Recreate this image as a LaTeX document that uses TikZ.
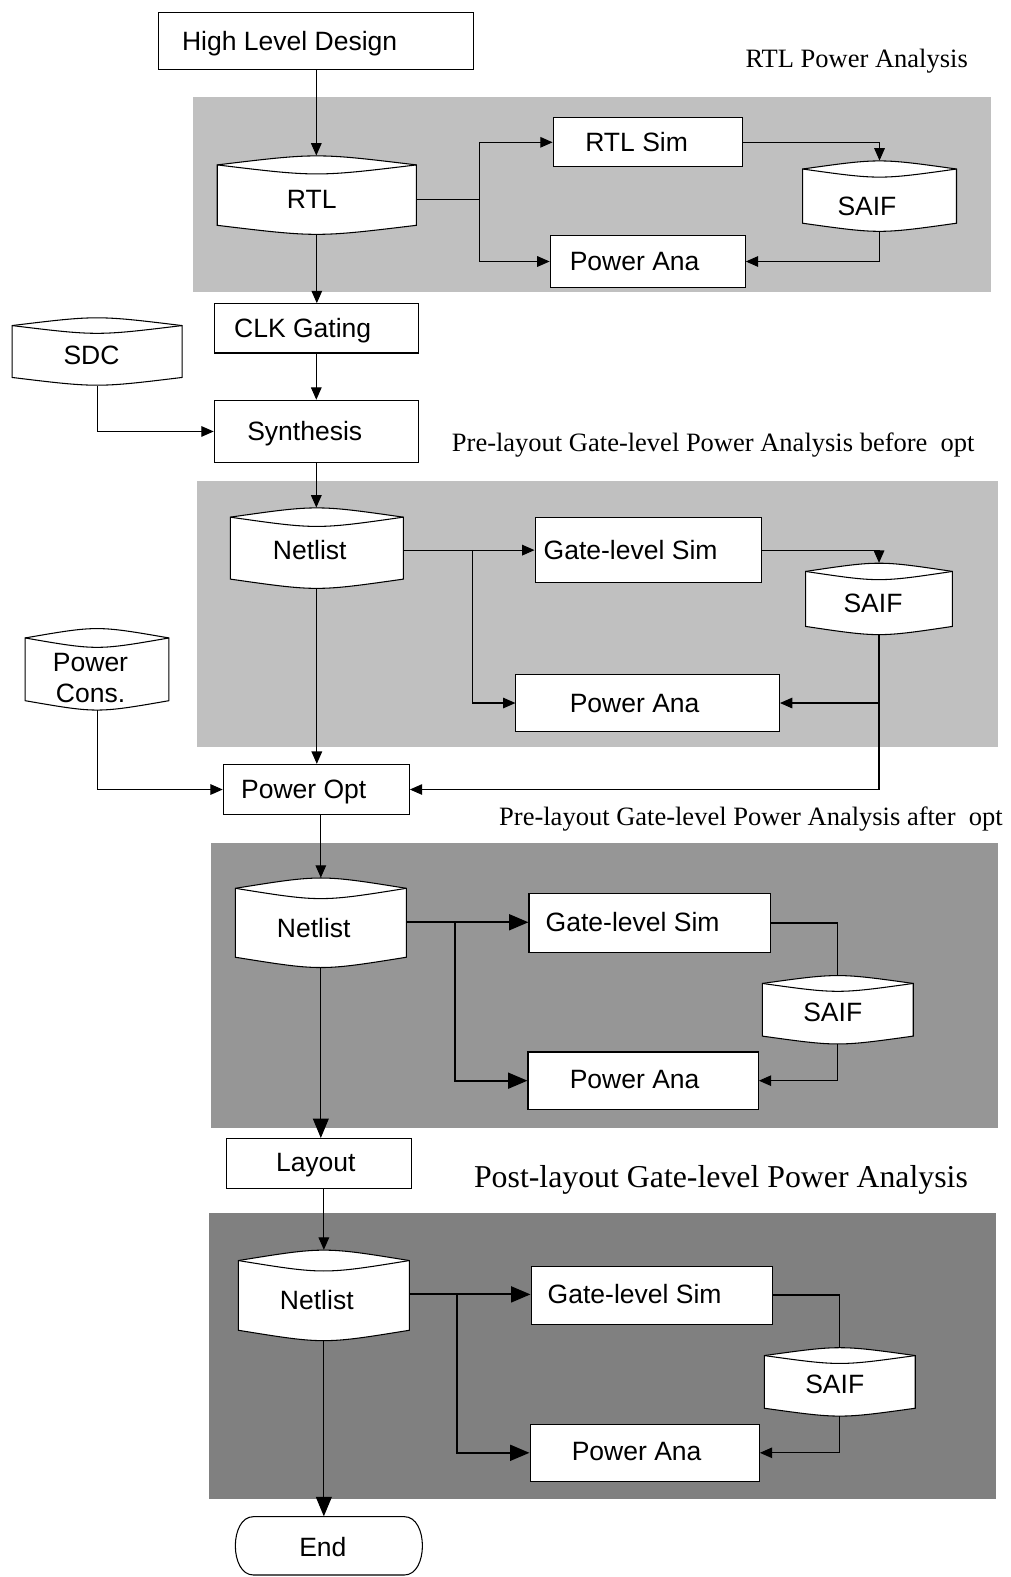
\documentclass[tikz,border=0pt]{standalone}
\usepackage{fontspec}
\setmainfont{Liberation Serif}
\setsansfont{Liberation Sans}
\usetikzlibrary{fit,arrows.meta}

\definecolor{bandA}{RGB}{192,192,192}
\definecolor{bandC}{RGB}{150,150,150}
\definecolor{bandD}{RGB}{128,128,128}

% process box spanning two corners
\newcommand\procnode[5]{\node[proc, fit={(#2,#3) (#4,#5)}] (#1) {};}

% data store: flat cylinder with a lens-shaped top and a bulging bottom
\newcommand\storenode[5]{%
  \pgfmathsetmacro\cylD{0.115*(#5-#3)}%
  \pgfmathsetmacro\cylC{4/3*\cylD}%
  \pgfmathsetmacro\cylM{(#2+#4)/2}%
  \pgfmathsetmacro\cylA{#3+\cylD}%
  \pgfmathsetmacro\cylB{#5-\cylD}%
  \filldraw[fill=white, wire] (#2,\cylA) -- (#2,\cylB)
     .. controls (\cylM,\cylB+\cylC) .. (#4,\cylB) -- (#4,\cylA)
     .. controls (\cylM,\cylA-\cylC) .. (#2,\cylA) -- cycle;
  \draw[wire] (#2,\cylA) .. controls (\cylM,\cylA+\cylC) .. (#4,\cylA);
  \node[area, fit={(#2,#3) (#4,#5)}] (#1) {};}

\begin{document}
\begin{tikzpicture}[x=0.02cm, y=-0.02cm,
  lbltwo/.style={font=\sffamily\fontsize{15}{17.6}\selectfont, inner sep=0, align=center},
  lbl/.style={lbltwo, text height=10.7pt, text depth=0pt},
  ttl/.style={font=\rmfamily\fontsize{15}{18}\selectfont, inner sep=0, anchor=west,
              text height=9.9pt, text depth=0pt},
  proc/.style={draw, fill=white, line width=0.6pt, inner sep=0},
  area/.style={inner sep=0, draw=none},
  wire/.style={line width=0.6pt},
  heavy/.style={line width=1.2pt},
  arr/.style={wire, -{Triangle[length=7pt,width=6pt]}},
  bigarr/.style={wire, -{Triangle[length=11pt,width=9pt]}},
  heavyarr/.style={heavy, -{Triangle[length=11pt,width=9pt]}}]
\useasboundingbox (0,0) rectangle (1005,1568);

% shaded analysis stages
\fill[bandA] (192,96) rectangle (985,290);
\fill[bandA] (196,478) rectangle (992,743);
\fill[bandC] (210,838) rectangle (992,1122);
\fill[bandD] (208,1206) rectangle (990,1490);

% stage titles
\node[ttl] (ttl-rtl) at (741,58) {RTL Power Analysis};
\node[ttl] (ttl-pre) at (449,440) {Pre-layout Gate-level Power Analysis before\ \ opt};
\node[ttl] (ttl-opt) at (496,812) {Pre-layout Gate-level Power Analysis after\ \ opt};
\node[ttl, font=\rmfamily\fontsize{18}{21}\selectfont, text height=11.9pt] (ttl-post) at (471,1170) {Post-layout Gate-level Power Analysis};

% main flow
\procnode{hld}{158}{12}{471}{69}
\storenode{rtl}{216}{155}{414}{233}
\procnode{rtlsim}{550}{117}{738}{166}
\storenode{saif1}{798}{160}{951}{230}
\procnode{pa1}{547}{234}{741}{286}
\procnode{clk}{213}{302}{416}{351}
\storenode{sdc}{12}{316}{181}{383}
\procnode{syn}{213}{398}{416}{460}
\storenode{net1}{229}{505}{401}{585}
\procnode{gs1}{532}{515}{757}{579}
\storenode{saif2}{801}{560}{947}{631}
\procnode{pa2}{513}{671}{775}{727}
\storenode{pcons}{25}{625}{168}{706}
\procnode{popt}{222}{760}{407}{810}
\storenode{net2}{234}{873}{404}{962}
\procnode{gs2}{526}{888}{766}{947}
\storenode{saif3}{758}{970}{908}{1038}
\procnode{pa3}{525}{1046}{754}{1103}
\procnode{layout}{225}{1132}{409}{1182}
\storenode{net3}{237}{1243}{407}{1333}
\procnode{gs3}{528}{1259}{768}{1317}
\storenode{saif4}{760}{1340}{910}{1408}
\procnode{pa4}{527}{1416}{755}{1473}
\node[area, fit={(234,1508) (420,1566)}] (finish) {};
\draw[wire] (252,1508) -- (402,1508) .. controls (426,1508) and (426,1566) .. (402,1566)
  -- (252,1566) .. controls (228,1566) and (228,1508) .. cycle;

% box texts
\node[lbl] (t-hld) at (288,41) {High Level Design};
\node[lbl] (t-rtl) at (310,198) {RTL};
\node[lbl] (t-rtlsim) at (633,141) {RTL Sim};
\node[lbl] (t-saif1) at (862,205) {SAIF};
\node[lbl] (t-pa1) at (631,260) {Power Ana};
\node[lbl] (t-clk) at (301,326) {CLK Gating};
\node[lbl] (t-sdc) at (91,353) {SDC};
\node[lbl] (t-syn) at (303,429) {Synthesis};
\node[lbl] (t-net1) at (308,547) {Netlist};
\node[lbl] (t-gs1) at (627,547) {Gate-level Sim};
\node[lbl] (t-saif2) at (868,600) {SAIF};
\node[lbl] (t-pa2) at (631,699) {Power Ana};
\node[lbltwo] (t-pcons) at (90,674) {Power\\Cons.};
\node[lbl] (t-popt) at (302,785) {Power Opt};
\node[lbl] (t-net2) at (312,923) {Netlist};
\node[lbl] (t-gs2) at (629,917) {Gate-level Sim};
\node[lbl] (t-saif3) at (828,1006) {SAIF};
\node[lbl] (t-pa3) at (631,1073) {Power Ana};
\node[lbl] (t-layout) at (314,1155) {Layout};
\node[lbl] (t-net3) at (315,1293) {Netlist};
\node[lbl] (t-gs3) at (631,1287) {Gate-level Sim};
\node[lbl] (t-saif4) at (830,1376) {SAIF};
\node[lbl] (t-pa4) at (633,1443) {Power Ana};
\node[lbl] (t-end) at (321,1538) {End};

% RTL stage
\coordinate (j1) at (477,198);
\draw[arr] (hld.south) -- (hld.south |- rtl.north);
\draw[wire] (rtl.east |- j1) -- (j1);
\draw[arr] (j1) |- (rtlsim.west);
\draw[arr] (j1) |- (pa1.west);
\draw[arr] (rtlsim.east) -| (saif1.north);
\draw[arr] (saif1.south) |- (pa1.east);
\draw[arr] (rtl.south) -- (rtl.south |- clk.north);
\draw[arr] (clk.south) -- (syn.north);
\draw[arr] (sdc.south) |- (syn.west);

% pre-layout stage
\coordinate (j2) at (470,547);
\draw[arr] (syn.south) -- (syn.south |- net1.north);
\draw[wire] (net1.east |- j2) -- (j2);
\draw[arr] (j2) -- (gs1.west |- j2);
\draw[arr] (j2) |- (pa2.west);
\draw[arr] (gs1.east) -| (saif2.north);
\coordinate (j3) at (saif2.south |- pa2.east);
\draw[arr] (saif2.south) |- (popt.east);
\draw[arr] (j3) -- (pa2.east);
\draw[arr] (net1.south) -- (net1.south |- popt.north);
\draw[arr] (pcons.south) |- (popt.west);
\draw[arr] (net2.north |- popt.south) -- (net2.north);

% after-opt stage
\coordinate (j4) at (452,917);
\coordinate (k4) at (saif3.north |- gs2.east);
\draw[heavy] (net2.east |- j4) -- (j4);
\draw[heavyarr] (j4) -- (gs2.west |- j4);
\draw[heavyarr] (j4) |- (pa3.west);
\draw[heavy] (gs2.east) -- (k4);
\draw[wire] (k4) -- (saif3.north);
\draw[arr] (saif3.south) |- (pa3.east);
\draw[bigarr] (net2.south) -- (net2.south |- layout.north);
\draw[arr] (net3.north |- layout.south) -- (net3.north);

% post-layout stage
\coordinate (j5) at (454,1287);
\coordinate (k5) at (saif4.north |- gs3.east);
\draw[heavy] (net3.east |- j5) -- (j5);
\draw[heavyarr] (j5) -- (gs3.west |- j5);
\draw[heavyarr] (j5) |- (pa4.west);
\draw[heavy] (gs3.east) -- (k5);
\draw[wire] (k5) -- (saif4.north);
\draw[arr] (saif4.south) |- (pa4.east);
\draw[bigarr] (net3.south) -- (net3.south |- finish.north);
\end{tikzpicture}
\end{document}
